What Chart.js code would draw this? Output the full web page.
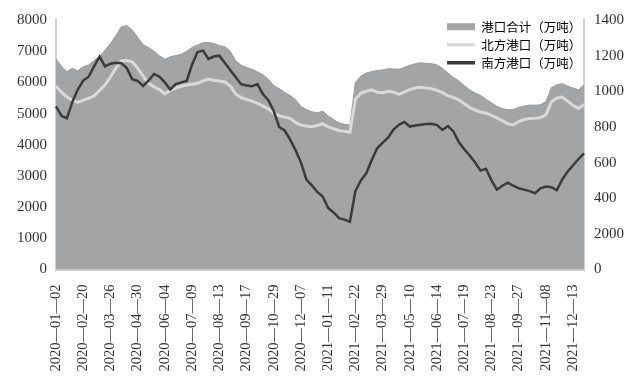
<!DOCTYPE html>
<html><head><meta charset="utf-8">
<script src="https://cdn.jsdelivr.net/npm/chart.js@4.4.0/dist/chart.umd.min.js"></script>
<style>html,body{margin:0;padding:0;background:#fff;}#wrap{width:638px;height:383px;}</style>
</head><body><div id="wrap"><canvas id="c" width="638" height="383"></canvas></div>
<script>
const categories = [
 '2020-01-02','2020-01-09','2020-01-16','2020-02-06','2020-02-13',
 '2020-02-20','2020-02-27','2020-03-05','2020-03-12','2020-03-19',
 '2020-03-26','2020-04-02','2020-04-09','2020-04-16','2020-04-23',
 '2020-04-30','2020-05-07','2020-05-14','2020-05-21','2020-05-28',
 '2020-06-04','2020-06-11','2020-06-18','2020-06-25','2020-07-02',
 '2020-07-09','2020-07-16','2020-07-23','2020-07-30','2020-08-06',
 '2020-08-13','2020-08-20','2020-08-27','2020-09-03','2020-09-10',
 '2020-09-17','2020-09-24','2020-10-08','2020-10-15','2020-10-22',
 '2020-10-29','2020-11-05','2020-11-12','2020-11-19','2020-11-30',
 '2020-12-07','2020-12-14','2020-12-21','2020-12-28','2021-01-04',
 '2021-01-11','2021-01-18','2021-01-25','2021-02-01','2021-02-08',
 '2021-02-22','2021-03-01','2021-03-08','2021-03-15','2021-03-22',
 '2021-03-29','2021-04-06','2021-04-12','2021-04-19','2021-04-26',
 '2021-05-10','2021-05-17','2021-05-24','2021-05-31','2021-06-07',
 '2021-06-14','2021-06-21','2021-06-28','2021-07-05','2021-07-12',
 '2021-07-19','2021-07-26','2021-08-02','2021-08-09','2021-08-16',
 '2021-08-23','2021-08-30','2021-09-06','2021-09-13','2021-09-20',
 '2021-09-27','2021-10-11','2021-10-18','2021-10-25','2021-11-01',
 '2021-11-08','2021-11-15','2021-11-22','2021-11-29','2021-12-06',
 '2021-12-13','2021-12-20','2021-12-27'
];
const totalPort = [
 6750,6520,6350,6450,6370,6500,6560,6700,6820,7030,
 7250,7500,7780,7820,7680,7450,7210,7120,7000,6850,
 6740,6820,6860,6900,7000,7120,7200,7270,7280,7250,
 7180,7150,7000,6700,6550,6480,6420,6340,6250,6100,
 5900,5800,5680,5580,5450,5230,5130,5060,5020,5080,
 4920,4810,4700,4660,4630,6000,6200,6300,6350,6380,
 6400,6440,6430,6420,6480,6550,6600,6630,6610,6600,
 6560,6450,6300,6160,6050,5900,5760,5660,5580,5460,
 5350,5230,5160,5120,5130,5200,5240,5270,5270,5280,
 5380,5830,5920,5960,5880,5820,5760,5920
];
const northPort = [
 1030,995,968,950,938,950,960,975,1005,1035,
 1080,1130,1170,1172,1165,1130,1085,1045,1025,1010,
 985,1005,1018,1028,1035,1040,1045,1058,1068,1062,
 1058,1052,1030,985,965,955,945,932,918,900,
 878,862,855,848,825,810,805,801,808,818,
 800,790,780,775,770,955,989,1000,1008,995,
 992,1000,995,982,995,1010,1018,1022,1018,1014,
 1005,992,975,965,952,930,910,895,884,878,
 865,850,835,818,811,830,842,847,848,852,
 868,940,962,968,945,920,904,926
];
const southPort = [
 915,862,848,940,1010,1060,1082,1140,1195,1140,
 1155,1160,1158,1130,1068,1058,1030,1060,1097,1082,
 1050,1010,1040,1050,1058,1150,1220,1228,1182,1195,
 1200,1160,1120,1080,1040,1032,1028,1040,985,950,
 890,800,780,730,670,600,505,472,435,410,
 345,320,288,280,268,440,500,540,614,680,
 710,740,785,812,828,802,808,812,816,818,
 810,783,805,775,715,675,640,600,555,565,
 500,448,470,487,470,456,448,440,428,455,
 465,462,445,505,550,585,620,652
];
const leftTicks = ['0','1000','2000','3000','4000','5000','6000','7000','8000'];
const rightTicks = ['0','2000','400','600','800','1000','1200','1400'];
const seriesNames = ['港口合计（万吨）','北方港口（万吨）','南方港口（万吨）'];

const AREA = '#a3a4a6', LIGHT = '#d9d9d9', DARK = '#3b3b3b', AXIS = '#cfcfcf';
const tickFont = {family: "'Liberation Serif', 'Times New Roman', serif", size: 15};

const legendPlace = {
  id: 'legendPlace',
  afterLayout(chart) {
    const lg = chart.legend; if (!lg) return;
    const w = lg.width, h = lg.height;
    lg.left = 441.5; lg.top = 15; lg.right = lg.left + w; lg.bottom = lg.top + h;
  }
};

new Chart(document.getElementById('c'), {
  type: 'line',
  data: {
    labels: categories,
    datasets: [
      {label: seriesNames[0], data: totalPort, yAxisID: 'y', fill: 'origin', backgroundColor: AREA,
       borderColor: '#9a9b9d', borderWidth: 1, pointRadius: 0, tension: 0, order: 3},
      {label: seriesNames[1], data: northPort, yAxisID: 'y2', fill: false, borderColor: LIGHT,
       borderWidth: 3, pointRadius: 0, tension: 0, order: 2},
      {label: seriesNames[2], data: southPort, yAxisID: 'y2', fill: false, borderColor: DARK,
       borderWidth: 2.5, pointRadius: 0, tension: 0, order: 1}
    ]
  },
  options: {
    responsive: false, animation: false, devicePixelRatio: 1,
    layout: {padding: {top: 20, left: 0, right: 0, bottom: 0}},
    plugins: {
      tooltip: {enabled: false},
      legend: {
        position: 'chartArea', align: 'start',
        labels: {
          usePointStyle: true, pointStyleWidth: 28, boxHeight: 7, padding: 5.5,
          color: '#555', font: {family: "'Noto Sans CJK SC'", size: 12.5},
          generateLabels: () => [
            {text: seriesNames[0], fillStyle: AREA, strokeStyle: AREA, lineWidth: 0, pointStyle: 'rect', datasetIndex: 0, hidden: false},
            {text: seriesNames[1], fillStyle: LIGHT, strokeStyle: LIGHT, lineWidth: 3, pointStyle: 'line', datasetIndex: 1, hidden: false},
            {text: seriesNames[2], fillStyle: DARK, strokeStyle: DARK, lineWidth: 3.5, pointStyle: 'line', datasetIndex: 2, hidden: false}
          ]
        }
      }
    },
    scales: {
      x: {
        type: 'category', offset: false,
        grid: {display: false, drawTicks: false},
        border: {display: true, color: AXIS, width: 2},
        ticks: {autoSkip: false, minRotation: 90, maxRotation: 90, padding: 15, color: '#333',
          font: {family: tickFont.family, size: 14.5},
          callback: function(v, i) { return i % 5 === 0 ? categories[i].replace(/-/g, '—') : ''; }},
        afterFit: s => { s.height = 113.5; }
      },
      y: {
        position: 'left', min: 0, max: 8000,
        grid: {display: false, drawTicks: false},
        border: {display: true, color: AXIS, width: 2},
        ticks: {stepSize: 1000, padding: 9, color: '#333', font: tickFont, callback: (v, i) => leftTicks[i]},
        afterFit: s => { s.width = 56; }
      },
      y2: {
        position: 'right', min: 0, max: 1400,
        grid: {display: false, drawTicks: false},
        border: {display: true, color: AXIS, width: 2},
        ticks: {stepSize: 200, padding: 10, color: '#333', font: tickFont, callback: (v, i) => rightTicks[i]},
        afterFit: s => { s.width = 54; }
      }
    }
  },
  plugins: [legendPlace]
});
</script></body></html>
